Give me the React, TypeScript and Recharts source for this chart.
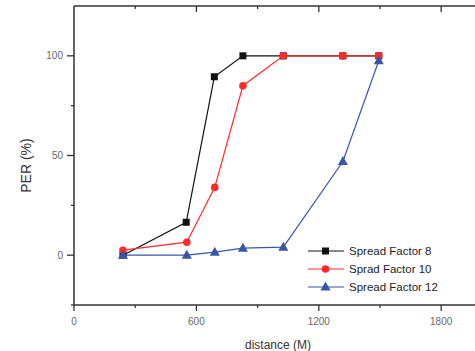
import React from 'react';
import { LineChart, Line, XAxis, YAxis, ReferenceLine } from 'recharts';

const sf8X = [240, 550, 688, 828, 1026, 1318, 1494];
const sf8Y = [0, 16.5, 89.5, 100, 100, 100, 100];
const sf10X = [240, 553, 690, 828, 1026, 1318, 1494];
const sf10Y = [2.5, 6.5, 34, 85, 100, 100, 100];
const sf12X = [240, 553, 690, 828, 1026, 1318, 1494];
const sf12Y = [0, 0, 1.5, 3.5, 4, 47, 97.5];
const seriesNames = ['Spread Factor 8', 'Sprad Factor 10', 'Spread Factor 12'];
const xTicks = [0, 300, 600, 900, 1200, 1500, 1800];
const xLabels = [0, 600, 1200, 1800];
const yTicks = [-25, 0, 25, 50, 75, 100];
const yLabels = [0, 50, 100];
const yMax = 125;

const colors = ['#111111', '#ff2a2a', '#3a55a8'];
const axisColor = '#333';
const FONT = 'Liberation Sans, Arial, sans-serif';

const d8 = sf8X.map((x, i) => ({ x, y: sf8Y[i] }));
const d10 = sf10X.map((x, i) => ({ x, y: sf10Y[i] }));
const d12 = sf12X.map((x, i) => ({ x, y: sf12Y[i] }));

const Square = (p: any) => (
  <rect key={p.index} x={p.cx - 3.5} y={p.cy - 3.5} width={7} height={7} fill={colors[0]} />
);
const Circle = (p: any) => (
  <circle key={p.index} cx={p.cx} cy={p.cy} r={3.8} fill={colors[1]} />
);
const Tri = (p: any) => (
  <polygon key={p.index} points={`${p.cx},${p.cy - 5.5} ${p.cx - 5},${p.cy + 3.5} ${p.cx + 5},${p.cy + 3.5}`} fill={colors[2]} />
);

const XTick = (p: any) => {
  const v = p.payload.value;
  const major = xLabels.includes(v);
  const y0 = p.y - 8;
  return (
    <g>
      <line x1={p.x} x2={p.x} y1={y0} y2={y0 + (major ? 6 : 3)} stroke={axisColor} strokeWidth={1.3} />
      {major && <text x={p.x} y={y0 + 20} textAnchor="middle" fontSize={10} fill="#666" fontFamily={FONT}>{v}</text>}
    </g>
  );
};
const YTick = (p: any) => {
  const v = p.payload.value;
  const major = yLabels.includes(v);
  const x0 = p.x + 8;
  return (
    <g>
      <line x1={x0} x2={x0 - (major ? 7 : 3)} y1={p.y} y2={p.y} stroke={axisColor} strokeWidth={1.3} />
      {major && <text x={x0 - 11} y={p.y + 3.5} textAnchor="end" fontSize={10} fill="#666" fontFamily={FONT}>{v}</text>}
    </g>
  );
};

const LegendBox = () => (
  <svg width={170} height={60} style={{ position: 'absolute', left: 306, top: 242, fontFamily: FONT }}>
    {seriesNames.map((n, i) => {
      const y = 9 + i * 18;
      return (
        <g key={n}>
          <line x1={2} x2={38} y1={y} y2={y} stroke={colors[i]} strokeWidth={1.2} />
          {i === 0 && <rect x={16} y={y - 3.5} width={7} height={7} fill={colors[0]} />}
          {i === 1 && <circle cx={19.5} cy={y} r={3.8} fill={colors[1]} />}
          {i === 2 && <polygon points={`19.5,${y - 5.5} 14.5,${y + 3.5} 24.5,${y + 3.5}`} fill={colors[2]} />}
          <text x={43} y={y + 4} fontSize={11.5} fill="#222">{n}</text>
        </g>
      );
    })}
  </svg>
);

export default function App() {
  return (
    <div style={{ position: 'absolute', left: 0, top: 0, width: 475, height: 351, overflow: 'hidden', background: '#fff' }}>
      <LineChart width={492} height={351} margin={{ top: 6, right: 10, left: 0, bottom: 0 }}
        style={{ fontFamily: FONT }}>
        <XAxis xAxisId="b" type="number" dataKey="x" domain={[0, 2000]} ticks={xTicks}
          allowDataOverflow height={46} stroke={axisColor} strokeWidth={1.5}
          tickLine={false} tick={<XTick />}
          label={{ value: 'distance (M)', position: 'insideBottom', offset: 2, fill: '#333', fontSize: 12 }} />
        <YAxis yAxisId="l" type="number" domain={[-25, yMax]} ticks={yTicks} width={74}
          stroke={axisColor} strokeWidth={1.5} tickLine={false} tick={<YTick />}
          label={{ value: 'PER (%)', angle: -90, position: 'insideLeft', offset: 26, fill: '#333', fontSize: 14, dy: 10, style: { textAnchor: 'middle' } }} />
        <ReferenceLine xAxisId="b" yAxisId="l" y={yMax} stroke={axisColor} strokeWidth={1.5} />
        {xTicks.filter((t) => t > 0).map((t) => (
          <ReferenceLine key={t} xAxisId="b" yAxisId="l" stroke={axisColor} strokeWidth={1.3}
            segment={[{ x: t, y: yMax }, { x: t, y: yMax - (xLabels.includes(t) ? 3 : 1.5) }]} />
        ))}
        <Line xAxisId="b" yAxisId="l" data={d8} dataKey="y" name={seriesNames[0]} stroke={colors[0]} strokeWidth={1.2} dot={Square} isAnimationActive={false} />
        <Line xAxisId="b" yAxisId="l" data={d10} dataKey="y" name={seriesNames[1]} stroke={colors[1]} strokeWidth={1.2} dot={Circle} isAnimationActive={false} />
        <Line xAxisId="b" yAxisId="l" data={d12} dataKey="y" name={seriesNames[2]} stroke={colors[2]} strokeWidth={1.2} dot={Tri} isAnimationActive={false} />
      </LineChart>
      <LegendBox />
    </div>
  );
}
